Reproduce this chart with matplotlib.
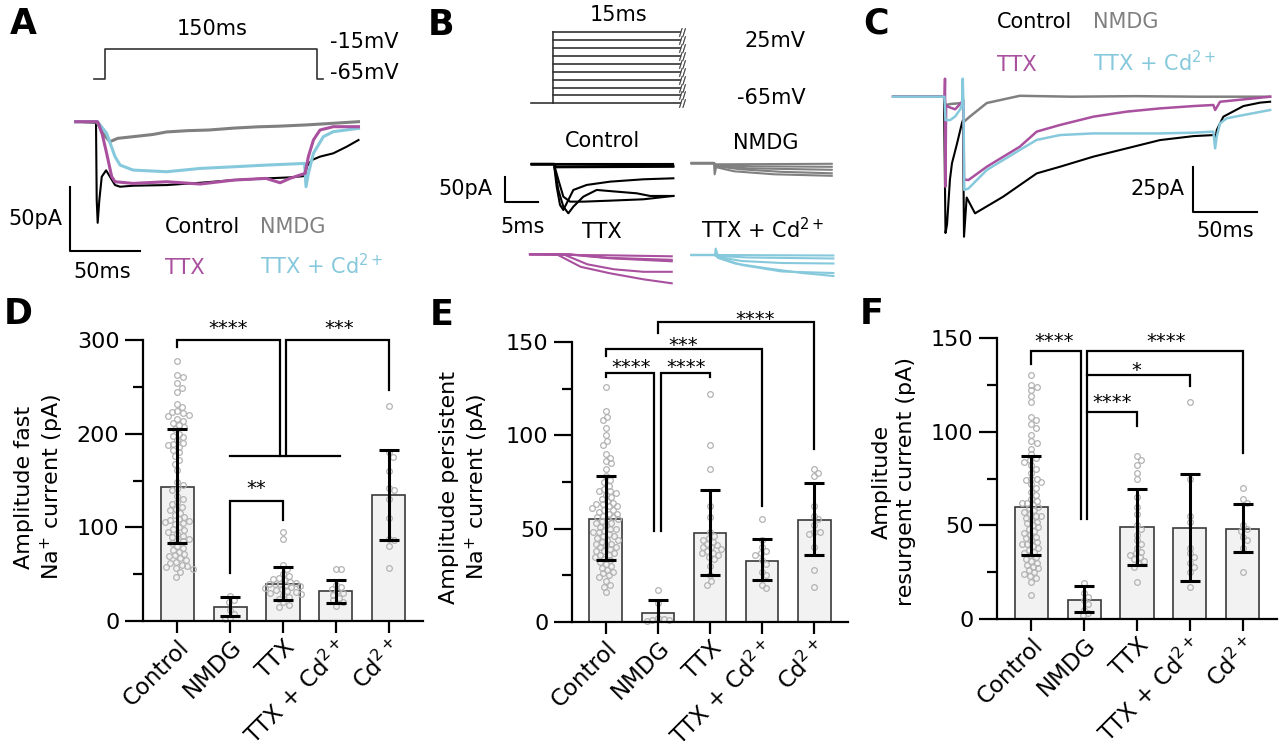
import matplotlib
matplotlib.use('Agg')
import matplotlib.pyplot as plt
import numpy as np

# ---------------- data ----------------
groups = ['Control', 'NMDG', 'TTX', 'TTX + Cd$^{2+}$', 'Cd$^{2+}$']

# D: fast Na+ current
D_mean = [143, 15, 40, 32, 134]
D_lo = [83, 5, 22, 19, 87]
D_hi = [205, 26, 58, 44, 183]
D_ctrl = [278, 263, 260, 254, 249, 245, 232, 228, 224, 223, 222, 220, 219, 216, 213, 211, 209, 207,
          205, 200, 198, 196, 193, 190, 189, 188, 186, 183, 180, 176, 172, 168, 161, 148, 145, 141,
          140, 133, 130, 127, 125, 122, 120, 118, 115, 113, 111, 109, 108, 107, 106, 105, 104, 100,
          98, 97, 95, 93, 91, 90, 88, 86, 85, 83, 80, 78, 76, 74, 72, 70, 69, 67, 65, 63, 62, 60,
          59, 58, 57, 56, 52, 47]
D_nmdg = [27, 22, 20, 12, 7, 3, 2]
D_ttx = [95, 88, 60, 55, 50, 48, 46, 45, 44, 42, 41, 40, 40, 39, 38, 37, 36, 35, 34, 33, 32, 31,
         30, 29, 28, 26, 24, 20, 17, 15]
D_ttxcd = [55, 55, 38, 36, 34, 32, 30, 28, 25, 22, 20, 16]
D_cd = [230, 180, 175, 160, 142, 140, 130, 110, 88, 86, 80, 57]

# E: persistent Na+ current
E_mean = [55, 4.8, 47.7, 32.9, 54.8]
E_lo = [33, -2, 25, 22.3, 35.7]
E_hi = [78, 11.6, 70.5, 44.5, 74.5]
E_ctrl = [126, 113, 110, 108, 104, 100, 97, 95, 90, 88, 86, 85, 82, 78, 76, 75, 73, 71, 70, 70,
          69, 68, 67, 66, 65, 64, 63, 63, 62, 62, 61, 60, 60, 59, 58, 58, 57, 56, 56, 55, 55, 54,
          53, 53, 52, 51, 50, 50, 49, 48, 48, 47, 46, 46, 45, 44, 44, 43, 42, 42, 41, 40, 40, 39,
          38, 38, 37, 36, 36, 35, 34, 33, 32, 31, 30, 29, 28, 27, 26, 25, 24, 22, 20, 19, 16]
E_nmdg = [17, 10, 2, 1.5, 1, 1, 0.5]
E_ttx = [122, 95, 82, 62, 56, 48, 46, 45, 44, 43, 42, 41, 40, 40, 39, 38, 37, 37, 36, 35, 34,
         30, 25, 22, 20]
E_ttxcd = [55, 44, 40, 38, 37, 36, 33, 31, 27, 25, 20, 18]
E_cd = [82, 80, 78, 62, 57, 55, 52, 48, 48, 47, 40, 28, 19]

# F: resurgent current
F_mean = [60, 10.1, 48.9, 48.4, 48]
F_lo = [34.2, 3.7, 28.8, 20.1, 35.8]
F_hi = [86.8, 17.4, 69.6, 77.4, 61.6]
F_ctrl = [130, 125, 124, 122, 119, 116, 108, 106, 104, 102, 98, 95, 94, 91, 88, 86, 85, 84, 82,
          80, 78, 75, 75, 74, 73, 72, 70, 68, 66, 64, 63, 62, 62, 61, 60, 59, 58, 57, 56, 55, 55,
          54, 53, 52, 51, 50, 49, 48, 47, 46, 45, 44, 43, 42, 41, 40, 40, 39, 38, 37, 36, 35, 34,
          33, 32, 31, 30, 29, 28, 27, 26, 25, 24, 23, 22, 20, 13]
F_nmdg = [19, 14, 12, 10, 8, 5, 3, 2]
F_ttx = [87, 85, 82, 78, 75, 65, 60, 56, 50, 48, 45, 42, 40, 38, 36, 35, 34, 33, 32, 31, 30, 28, 20]
F_ttxcd = [116, 75, 55, 52, 38, 35, 33, 30, 28, 25, 17]
F_cd = [70, 64, 62, 50, 48, 47, 44, 42, 38, 25]

# A: example traces (ms, pA)
A_t_ctrl = [-15, -0.5, 0, 0.7, 1.9, 3.6, 6.7, 9.5, 13.1, 16.7, 26, 50, 74, 98, 121, 138, 149, 150,
            153.6, 159.5, 169, 178.6, 187]
A_i_ctrl = [0, -0.8, -61, -79, -61, -43, -38, -43, -49.5, -50.8, -50, -49.5, -47.7, -45.6, -44.3,
            -43.5, -42.4, -35, -30, -27.3, -24.7, -19.5, -14.3]
A_t_nmdg = [-15, 0, 2, 5, 9.5, 15, 26, 40, 50, 65, 80, 98, 115, 130, 150, 165, 187]
A_i_nmdg = [0, 0, -4, -10, -15.6, -13, -11.7, -10, -8, -7, -6.5, -5, -4, -3.5, -2.5, -1.5, 0]
A_t_ttx = [-15, 0.5, 1.2, 4, 7.1, 10.7, 13.1, 26, 50, 74, 98, 121, 131, 138, 148.8, 151.2, 154.8,
           159.5, 169, 187]
A_i_ttx = [0, 0, -1.3, -10, -24.7, -42.9, -46.9, -48.2, -46.9, -48.7, -45.6, -44.3, -47.7, -44.3,
           -40.4, -27.3, -14.3, -6.5, -3.9, -3.9]
A_t_cd = [-15, 0.5, 1.2, 7.1, 13.1, 16.7, 26, 50, 74, 98, 121, 148.5, 149.5, 151.2, 154.8, 161.9,
          169, 187]
A_i_cd = [0, 0, -0.8, -9.1, -27.3, -33.9, -37.8, -39.1, -36.5, -35.2, -33.9, -32.6, -50.8, -40.4,
          -24.7, -11.7, -7.8, -5.2]
A_prot_t = [-8, 0, 0, 150, 150, 154]
A_prot_v = [-65, -65, -15, -15, -65, -65]

# B: step protocol and traces
B_levels = [-65, -55, -45, -35, -25, -15, -5, 5, 15, 25]
B_step_ms = 15
B_ctrl = [([-3.35, 0, 0.4, 0.9, 1.4, 1.9, 2.9, 4.9, 8.4, 13.4, 17.9],
           [0, 0, -44.7, -81.3, -91.3, -78, -51.3, -41.3, -34.7, -30, -28]),
          ([-3.35, 0, 0.65, 1.4, 2.15, 2.9, 4.4, 6.4, 9.4, 12.4, 14.4, 17.9],
           [0, 0, -51.3, -84.7, -98, -84.7, -64.7, -51.3, -54.7, -58, -63.3, -63.3]),
          ([-3.35, 0, 0.65, 1.4, 2.4, 4.4, 8.4, 13.4, 17.9],
           [0, 0, -31, -64.7, -74.7, -74.7, -72.7, -70, -63.3]),
          ([-3.35, 17.9], [0, 0]),
          ([-3.35, 0, 0.3, 17.9], [0, 0, -4, -3]),
          ([-3.35, 0, 0.3, 17.9], [1, 1, -6, -5])]
B_nmdg = [([-3.35, 0, 0.1, 0.4, 17.65], [0, 0, -22, -2, -1]),
          ([-3.35, 0, 0.4, 6, 17.65], [0, 0, -4, -6, -7]),
          ([-3.35, 0, 0.4, 5, 17.65], [0, 0, -5, -10, -13]),
          ([-3.35, 0, 0.4, 4, 10, 17.65], [1, 1, -6, -12, -17, -20]),
          ([-3.35, 0, 0.4, 3, 9, 17.65], [0, 0, -8, -16, -22, -25])]
B_ttx = [([-3.6, 0, 8, 17.65], [0, -1, -2, -4]),
         ([-3.6, 2.4, 8, 17.65], [0, 0, -7, -11]),
         ([-3.6, 1.4, 5, 9, 13.4, 17.65], [0, 0, -20, -30, -35, -35]),
         ([-3.6, 0.4, 4, 8.4, 13.4, 17.65], [0, 0, -25, -38, -50, -58]),
         ([-3.6, 1.9, 8.4, 17.65], [0, 0, -8, -14])]
B_cd = [([-3.5, 0, 0.1, 0.4, 17.75], [0, 0, 13, 0, -1]),
        ([-3.5, 0, 0.4, 5, 17.75], [0, 0, -2, -5, -7]),
        ([-3.5, 0, 0.5, 4, 10, 17.75], [0, 0, -4, -12, -16, -17]),
        ([-3.5, 0, 0.5, 3, 8, 13, 16.25, 17.75], [0, 0, -6, -17, -27, -36, -40, -42]),
        ([-3.5, 0, 0.5, 4, 10, 17.75], [0, 0, -5, -20, -33, -36])]

# C: resurgent traces (ms, pA)
C_t_ctrl = [-41, -0.8, 0.4, 1.6, 3.9, 5.5, 9.5, 13.4, 14.2, 15, 17.1, 23.7, 45.8, 72.4, 90.8, 117.1,
            143.4, 169.7, 196.1, 212.4, 213.2, 214.5, 219.7, 235.5, 248.7, 256.6]
C_i_ctrl = [0, 0, -75.7, -71, -46, -37, -26, -14.6, -13, -77.8, -56, -64.8, -55.6, -42.6, -38.9,
            -33.3, -28.7, -24.1, -21.9, -21.3, -25, -18.5, -11.1, -5.2, -3.3, -2.8]
C_t_nmdg = [-41, -0.5, 0.3, 5, 14, 15, 19.7, 33, 59, 100, 150, 200, 256.6]
C_i_nmdg = [0, 0, -4.6, -4, -3.5, -13.9, -11, -3.5, 0.5, 0, 0.3, 0, 0]
C_t_ttx = [-41, -0.3, 0, 0.3, 0.9, 4, 8, 12, 14.5, 15, 18.5, 33, 59, 72.4, 90.8, 117.1, 143.4,
           169.7, 196.1, 211.8, 213.2, 217.1, 235.5, 256.6]
C_i_ttx = [0, 0, 10, -50, -5, -6, -7, -4, -2, -46, -46.3, -38.9, -27.8, -19.4, -15.7, -11.1, -8.3,
           -6.5, -5.2, -4.6, -7.4, -2.8, -1.5, 0]
C_t_cd = [-41, -0.5, 0.4, 4, 8, 12, 13.5, 14, 14.6, 15.2, 18.5, 33, 59, 72.4, 90.8, 117.1, 143.4,
          169.7, 196.1, 211.8, 213.2, 214.5, 217.1, 222.4, 235.5, 256.6]
C_i_cd = [0, 0, -13, -13, -11, -7, -4, 10, -5, -51.8, -51, -40.7, -29.6, -24, -21.3, -20.4, -20.4,
          -20.4, -20, -19.4, -28.7, -22, -14.8, -12, -10.2, -7.4]

# ---------------- style ----------------
BLACK, GRAY, MAG, CYAN = '#000000', '#808080', '#a9509f', '#86c9dc'
FS = 15
LETTER = 25
plt.rcParams['font.family'] = ['DejaVu Sans']
plt.rcParams['mathtext.fontset'] = 'dejavusans'

W, H = 1280, 755
fig = plt.figure(figsize=(12.8, 7.55), dpi=100)


def ftext(x, y, s, **kw):
    kw.setdefault('fontsize', FS)
    kw.setdefault('va', 'baseline')
    fig.text(x / W, 1 - y / H, s, **kw)


def trace_ax(box, origin, sx, sy):
    x0, y0, x1, y1 = box
    ox, oy = origin
    ax = fig.add_axes([x0 / W, 1 - y1 / H, (x1 - x0) / W, (y1 - y0) / H])
    ax.set_xlim((x0 - ox) / sx, (x1 - ox) / sx)
    ax.set_ylim((oy - y1) / sy, (oy - y0) / sy)
    ax.axis('off')
    return ax


# ---------------- panel A ----------------
axAp = trace_ax((55, 15, 390, 95), (105, 40.4), 1.413, 0.594)
axAp.plot(A_prot_t, A_prot_v, color='#333333', lw=1.2)
axA = trace_ax((55, 100, 390, 290), (96.7, 121.7), 1.4, 1.28)
axA.plot(A_t_ctrl, A_i_ctrl, color=BLACK, lw=1.5)
axA.plot(A_t_nmdg, A_i_nmdg, color=GRAY, lw=2.2)
axA.plot(A_t_cd, A_i_cd, color=CYAN, lw=2.2)
axA.plot(A_t_ttx, A_i_ttx, color=MAG, lw=2.2)
axA.plot([-19, -19, 31], [-51, -101, -101], color='k', lw=1.5, clip_on=False)
ftext(10, 34, 'A', fontsize=LETTER, fontweight='bold')
ftext(212, 35, '150ms', ha='center')
ftext(330, 48, '-15mV')
ftext(330, 79, '-65mV')
ftext(62, 225, '50pA', ha='right')
ftext(102, 278, '50ms', ha='center')
ftext(165, 233, 'Control', color=BLACK)
ftext(260, 233, 'NMDG', color=GRAY)
ftext(165, 274, 'TTX', color=MAG)
ftext(260, 274, 'TTX + Cd$^{2+}$', color=CYAN)

# ---------------- panel B ----------------
axBp = trace_ax((500, 20, 720, 115), (553.3, 51.95), 8.44, 0.79)
axBp.plot([-2.6, 0], [B_levels[0], B_levels[0]], color='#333333', lw=1.2)
axBp.plot([0, 0], [min(B_levels), max(B_levels)], color='#333333', lw=1.2)
for v in B_levels:
    axBp.plot([0, B_step_ms], [v, v], color='#333333', lw=1.2)
axBp.plot([B_step_ms + 0.3] * len(B_levels), B_levels, ls='none', marker='$//$', ms=6,
          color='#333333', mew=0.2)
ftext(428, 35, 'B', fontsize=LETTER, fontweight='bold')
ftext(618, 21, '15ms', ha='center')
ftext(745, 47, '25mV')
ftext(737, 104, '-65mV')

axBc = trace_ax((520, 125, 690, 225), (554, 164.3), 6.67, 0.5)
for t, i in B_ctrl:
    axBc.plot(t, i, color=BLACK, lw=1.5)
axBc.plot([-7.35, -7.35, -2.35], [-24.8, -74.8, -74.8], color='k', lw=1.5, clip_on=False)
axBn = trace_ax((685, 125, 845, 225), (714, 163.3), 6.67, 0.5)
for t, i in B_nmdg:
    axBn.plot(t, i, color=GRAY, lw=1.5)
axBt = trace_ax((520, 228, 690, 300), (554, 254.3), 6.67, 0.5)
for t, i in B_ttx:
    axBt.plot(t, i, color=MAG, lw=1.5)
axBd = trace_ax((685, 228, 845, 300), (715, 255), 6.67, 0.5)
for t, i in B_cd:
    axBd.plot(t, i, color=CYAN, lw=1.5)
ftext(603, 147, 'Control', ha='center')
ftext(766, 149, 'NMDG', ha='center')
ftext(492, 195, '50pA', ha='right')
ftext(523, 233, '5ms', ha='center')
ftext(602, 238, 'TTX', ha='center')
ftext(763, 238, 'TTX + Cd$^{2+}$', ha='center')

# ---------------- panel C ----------------
axC = trace_ax((880, 75, 1280, 250), (945, 96.7), 1.267, 1.8)
axC.plot(C_t_ctrl, C_i_ctrl, color=BLACK, lw=1.5)
axC.plot(C_t_nmdg, C_i_nmdg, color=GRAY, lw=1.8)
axC.plot(C_t_ttx, C_i_ttx, color=MAG, lw=1.8)
axC.plot(C_t_cd, C_i_cd, color=CYAN, lw=1.8)
axC.plot([196, 196, 246], [-38.9, -63.9, -63.9], color='k', lw=1.5, clip_on=False)
ftext(863, 33, 'C', fontsize=LETTER, fontweight='bold')
ftext(997, 28, 'Control', color=BLACK)
ftext(1093, 28, 'NMDG', color=GRAY)
ftext(997, 71, 'TTX', color=MAG)
ftext(1093, 71, 'TTX + Cd$^{2+}$', color=CYAN)
ftext(1185, 195, '25pA', ha='right')
ftext(1225, 237, '50ms', ha='center')


# ---------------- bar panels ----------------
def swarm(vals, sx, sy, d):
    placed, out = [], []
    for v in vals:
        py = v * sy
        c = 0.0
        for k in range(400):
            c = ((k + 1) // 2) * (0.25 * d) * (1 if k % 2 else -1)
            if all((c - px) ** 2 + (py - qy) ** 2 >= d * d for px, qy in placed):
                break
        placed.append((c, py))
        out.append(c / sx)
    return np.array(out)


XLIM = (-0.65, 4.65)


def bar_panel(rect, means, lo, hi, dots, ymax, major, minor, brackets, stars):
    x0, y0, x1, y1 = rect
    ax = fig.add_axes([x0 / W, 1 - y1 / H, (x1 - x0) / W, (y1 - y0) / H])
    ax.set_xlim(*XLIM)
    ax.set_ylim(0, ymax)
    for s in ['top', 'right']:
        ax.spines[s].set_visible(False)
    for s in ['left', 'bottom']:
        ax.spines[s].set_linewidth(1.6)
    xpos = np.arange(len(means))
    means = np.array(means, float)
    ax.bar(xpos, means, width=0.63, color='#f2f2f2', edgecolor='#3a3a3a', linewidth=1.2, zorder=1)
    sx = (x1 - x0) / (XLIM[1] - XLIM[0])
    sy = (y1 - y0) / ymax
    for i, vals in enumerate(dots):
        offs = swarm(vals, sx, sy, 5.6)
        ax.plot(i + offs, vals, 'o', ms=4.1, mfc='none', mec='#b3b3b3', mew=0.9, zorder=2,
                clip_on=False)
    ax.errorbar(xpos, means, yerr=[means - np.array(lo), np.array(hi) - means], fmt='none',
                ecolor='k', elinewidth=2.2, capsize=7.5, capthick=2.2, zorder=3)
    ax.set_yticks(major)
    ax.set_yticks(minor, minor=True)
    ax.tick_params(axis='y', which='major', length=13, width=1.6, labelsize=16, pad=4)
    ax.tick_params(axis='y', which='minor', length=7, width=1.6)
    ax.tick_params(axis='x', length=8.5, width=1.6, labelsize=16.5, pad=2)
    ax.set_xticks(xpos)
    ax.set_xticklabels(groups, rotation=45, ha='right', va='top', rotation_mode='anchor')
    for pts in brackets:
        bx, by = zip(*pts)
        ax.plot(bx, by, color='k', lw=1.6, clip_on=False, solid_joinstyle='miter')
    for s, x, y in stars:
        ax.annotate(s, (x, y), xytext=(0, -8), textcoords='offset points', ha='center',
                    va='baseline', fontsize=14, annotation_clip=False)
    return ax


bar_panel((143, 340, 423, 621), D_mean, D_lo, D_hi, [D_ctrl, D_nmdg, D_ttx, D_ttxcd, D_cd],
          300, [0, 100, 200, 300], [50, 150, 250],
          [[(0, 293), (0, 300), (1.95, 300), (1.95, 176.5)],
           [(1, 176.5), (3.08, 176.5)],
           [(2.06, 176.5), (2.06, 300), (4, 300), (4, 247)],
           [(1, 51), (1, 128.5), (2, 128.5), (2, 108)]],
          [('****', 0.97, 318), ('***', 3.06, 318), ('**', 1.49, 147)])
ftext(4, 324, 'D', fontsize=LETTER, fontweight='bold')
fig.text(40 / W, 1 - 487 / H, 'Amplitude fast\nNa$^{+}$ current (pA)', rotation=90,
         ha='center', va='center', fontsize=16, linespacing=1.25)

bar_panel((572, 342, 848, 622), E_mean, E_lo, E_hi, [E_ctrl, E_nmdg, E_ttx, E_ttxcd, E_cd],
          150, [0, 50, 100, 150], [25, 75, 125],
          [[(1, 155), (1, 160.5), (4, 160.5), (4, 92.7)],
           [(0, 142.3), (0, 146.25), (3, 146.25), (3, 62)],
           [(0, 131), (0, 133.4), (0.92, 133.4), (0.92, 48.6)],
           [(1.06, 48.6), (1.06, 133.4), (2, 133.4), (2, 131)]],
          [('****', 2.87, 165), ('***', 1.48, 151), ('****', 0.49, 139.6), ('****', 1.54, 139.6)])
ftext(430, 325, 'E', fontsize=LETTER, fontweight='bold')
fig.text(465 / W, 1 - 487 / H, 'Amplitude persistent\nNa$^{+}$ current (pA)', rotation=90,
         ha='center', va='center', fontsize=16, linespacing=1.25)

bar_panel((997, 338, 1277, 619), F_mean, F_lo, F_hi, [F_ctrl, F_nmdg, F_ttx, F_ttxcd, F_cd],
          150, [0, 50, 100, 150], [25, 75, 125],
          [[(0, 136.3), (0, 142.9), (0.936, 142.9), (0.936, 53.4)],
           [(1.05, 53.4), (1.05, 142.9), (4, 142.9), (4, 88.6)],
           [(1.05, 130.4), (3, 130.4), (3, 124.2)],
           [(1.05, 110.3), (2, 110.3), (2, 103.2)]],
          [('****', 0.43, 151), ('****', 2.55, 151), ('*', 1.99, 135.8), ('****', 1.53, 118.5)])
ftext(860, 324, 'F', fontsize=LETTER, fontweight='bold')
fig.text(894 / W, 1 - 482 / H, 'Amplitude\nresurgent current (pA)', rotation=90,
         ha='center', va='center', fontsize=16, linespacing=1.25)

fig.savefig('out.png', dpi=100)
